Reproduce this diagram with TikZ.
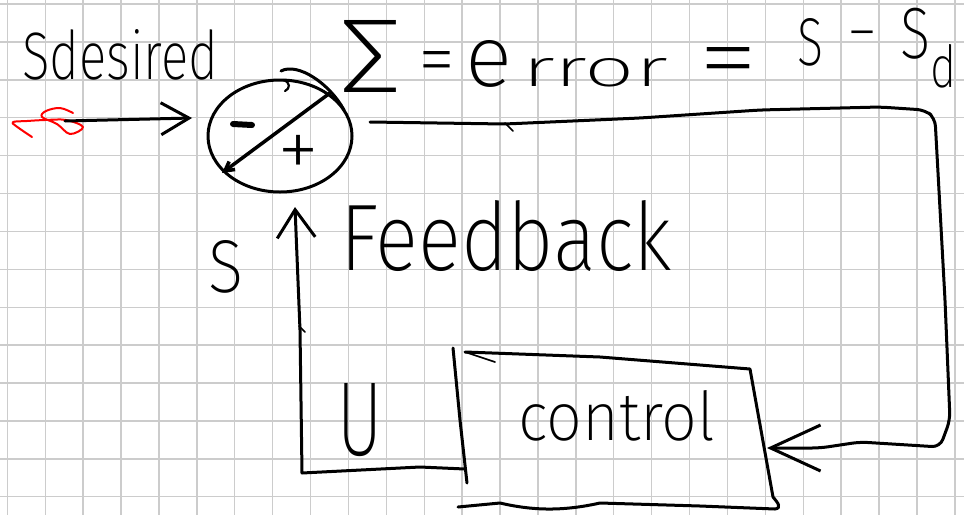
\documentclass[tikz,border=0pt]{standalone}
\usepackage{graphicx}
\usepackage{fontspec}
\newfontfamily\hand{Fira Sans ExtraLight}
\usetikzlibrary{arrows.meta,shapes.geometric,calc}
\newcommand{\fitw}[3]{\resizebox{#1pt}{#2pt}{\hand #3}}
\begin{document}
\begin{tikzpicture}[x=1pt,y=-1pt,
  pen/.style={line width=3pt, line cap=round, line join=round, draw=black},
  thinpen/.style={line width=1.6pt, line cap=round, draw=black},
  gridline/.style={draw=black!20, line width=1.4pt},
  txt/.style={inner sep=0pt, outer sep=0pt}]
\useasboundingbox (0,0) rectangle (964,515);
\fill[white] (0,0) rectangle (964,515);
% grid paper
\foreach \i in {0,...,25} \draw[gridline] ({7.3+37.9*\i},0) -- ({7.3+37.9*\i},515);
\foreach \j in {0,...,13} \draw[gridline] (0,{4+37.9*\j}) -- (964,{4+37.9*\j});

% key points
\coordinate (src) at (65,121);
\coordinate (intip) at (192,118);
\coordinate (e0) at (370,122);
\coordinate (ctrlin) at (767,448);
\coordinate (fbtip) at (295,207);
\coordinate (ufoot) at (302,473);
\coordinate (uright) at (465,469);

% summing junction
\node[pen, ellipse, minimum width=144pt, minimum height=112pt, inner sep=0pt] (sum) at (280,136) {};
\draw[pen] (281,71) .. controls (298,62) and (330,84) .. (344,110);
\draw[thinpen, line width=2.2pt] (283,80) .. controls (291,82) and (290,89) .. (285,91);
\draw[pen, line width=3.5pt, -{Straight Barb[length=9pt,width=10pt]}] (330,93) -- (222,173);
\draw[line width=6pt, line cap=round] (233,124) -- (252,125);
\node[txt] (plus) at (299,157) {\resizebox{42pt}{!}{\hand +}};

% red scribble
\draw[red, line width=2pt, line cap=round, line join=round]
  plot[smooth, tension=0.6] coordinates {(32,137) (16,126) (13,122) (27,121) (45,120) (66,120)
  (83,127) (70,134) (57,124) (42,117) (46,111) (60,108) (73,113)};

% input arrow
\draw[pen, -{Straight Barb[length=28pt,width=32pt]}] (src) -- (intip);

% labels at top
\node[txt, anchor=base west] (sdes) at (22,79) {\fitw{196}{50}{Sdesired}};
\node[txt, anchor=base west] (sigma) at (338,92) {\fitw{64}{72}{Σ}};
\node[txt, anchor=north] (eqa) at (437,51) {\resizebox{37pt}{34pt}{\hand =}};
\node[txt, anchor=base west] (err) at (465,86) {\fitw{47}{46}{e}\hspace{10pt}\fitw{146}{28}{rror}};
\node[txt, anchor=north] (eqb) at (729,47) {\resizebox{60pt}{44pt}{\hand =}};
\node[txt, anchor=base west] (s1) at (797,65) {\fitw{26}{47}{S}};
\node[txt] (mi) at (862,42) {\resizebox{30pt}{!}{\hand −}};
\node[txt, anchor=north west] (sd) at (900,8) {\resizebox*{56pt}{80pt}{\hand S\raisebox{-0.4em}{\scalebox{0.8}{d}}}};

% error line back to the controller
\draw[pen, rounded corners=8pt, -{Straight Barb[length=50pt,width=46pt]}]
  (e0) -- (505,124) -- (640,118) -- (760,110) -- (880,107) -- (925,110) -- (935,118)
  -- (945,300) -- (950,420) -- (940,447) -- (860,442) -- (820,448) -- (ctrlin);
\draw[thinpen] (505,123) -- (513,131);

% feedback
\draw[pen, -{Straight Barb[length=28pt,width=38pt]}] (uright) -- (420,467) -- (ufoot) -- (300,330) -- (fbtip);
\draw[thinpen] (299,326) -- (305,332);
\node[txt, anchor=base west] (slab) at (208,292) {\fitw{35}{52}{S}};
\node[txt, anchor=base west] (fb) at (340,270) {\fitw{332}{70}{Feedback}};

% U and control blocks
\draw[pen] (453,348) -- (460,420) -- (467,483);
\node[txt, anchor=base west] (ulab) at (337,455) {\fitw{45}{72}{U}};
\draw[pen] (465,352) -- (600,357) -- (750,369) -- (773,497) .. controls (778,503) and (782,508) .. (775,509)
  -- (700,506) -- (600,503) .. controls (560,512) and (530,510) .. (500,503) -- (458,507);
\draw[thinpen] (465,352) -- (495,362);
\node[txt, anchor=base west] (ctrl) at (518,440) {\fitw{197}{50}{control}};
\end{tikzpicture}
\end{document}
